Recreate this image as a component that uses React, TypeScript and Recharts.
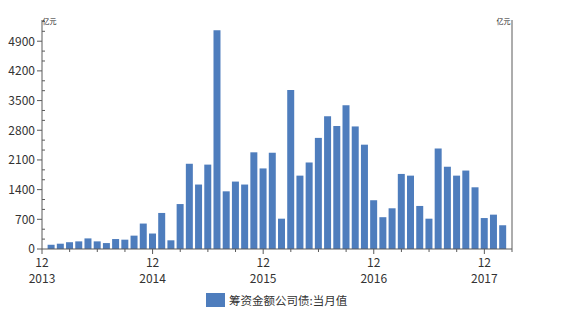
import React from 'react';
import { BarChart, Bar, XAxis, YAxis, CartesianGrid, Legend, Label } from 'recharts';

// monthly issuance, Jan 2014 .. Feb 2018
const MONTHS = [
  '2014-01', '2014-02', '2014-03', '2014-04', '2014-05', '2014-06', '2014-07', '2014-08', '2014-09', '2014-10', '2014-11', '2014-12',
  '2015-01', '2015-02', '2015-03', '2015-04', '2015-05', '2015-06', '2015-07', '2015-08', '2015-09', '2015-10', '2015-11', '2015-12',
  '2016-01', '2016-02', '2016-03', '2016-04', '2016-05', '2016-06', '2016-07', '2016-08', '2016-09', '2016-10', '2016-11', '2016-12',
  '2017-01', '2017-02', '2017-03', '2017-04', '2017-05', '2017-06', '2017-07', '2017-08', '2017-09', '2017-10', '2017-11', '2017-12',
  '2018-01', '2018-02',
];

const BOND_ISSUE = [
  100, 125, 160, 180, 250, 180, 140, 235, 220, 315, 600, 365,
  850, 205, 1060, 2010, 1520, 1990, 5160, 1360, 1590, 1520, 2280, 1900,
  2270, 715, 3750, 1730, 2040, 2620, 3130, 2900, 3390, 2890, 2460, 1150,
  750, 960, 1770, 1730, 1015, 715, 2370, 1940, 1730, 1850, 1455, 730,
  810, 560,
];

const YEAR_LABELS = ['2013', '2014', '2015', '2016', '2017'];
const MONTH_LABEL = '12';
const Y_MAJOR = [0, 700, 1400, 2100, 2800, 3500, 4200, 4900];
const Y_MAX = 5400;
const SERIES_NAME = '筹资金额公司债:当月值';
const UNIT = '亿元';

const BAR_COLOR = '#4e7dbd';
const AXIS_COLOR = '#5a5a5a';
const GRID_COLOR = '#e7ecf1';
const TEXT_COLOR = '#333';
const FONT = '"Noto Sans CJK SC", "Noto Sans", sans-serif';

// x position 0 = Dec 2013, bars sit at 1..50
const data = MONTHS.map((m, i) => ({ month: m, pos: i + 1, value: BOND_ISSUE[i] }));

const xTicks: number[] = [];
for (let p = 0; p <= MONTHS.length + 1; p += 3) xTicks.push(p);

const minorStep = 700 / 3;
const yTicks: number[] = [];
for (let i = 0; i * minorStep <= Y_MAX; i++) yTicks.push(i * minorStep);

const isMajor = (v: number) => Math.abs(v / 700 - Math.round(v / 700)) < 1e-6;

const XTick = (props: any) => {
  const { x, y, payload } = props;
  const v = payload.value;
  const major = v % 12 === 0;
  return (
    <g>
      <line x1={x} y1={y} x2={x} y2={y + (major ? 5 : 3)} stroke={AXIS_COLOR} />
      {major && (
        <text x={x} y={y} textAnchor="middle" fill={TEXT_COLOR} fontSize={12} fontFamily={FONT}>
          <tspan x={x} dy={18}>{MONTH_LABEL}</tspan>
          <tspan x={x} dy={16}>{YEAR_LABELS[v / 12]}</tspan>
        </text>
      )}
    </g>
  );
};

const makeYTick = (side: 'left' | 'right') => (props: any) => {
  const { x, y, payload } = props;
  const v = payload.value;
  const dir = side === 'left' ? -1 : 1;
  if (!isMajor(v)) {
    return <line x1={x} y1={y} x2={x - dir * 3} y2={y} stroke={AXIS_COLOR} />;
  }
  return (
    <g>
      <line x1={x} y1={y} x2={x + dir * 5} y2={y} stroke={AXIS_COLOR} />
      <text
        x={x + dir * 7}
        y={y}
        dy="0.36em"
        textAnchor={side === 'left' ? 'end' : 'start'}
        fill={TEXT_COLOR}
        fontSize={12}
        fontFamily={FONT}
      >
        {Math.round(v)}
      </text>
    </g>
  );
};

const unitLabel = (side: 'left' | 'right') => (p: any) => {
  const vb = p.viewBox;
  const x = side === 'left' ? vb.x + vb.width + 0.5 : vb.x - 1.5;
  return (
    <text x={x} y={vb.y + 3.5} textAnchor={side === 'left' ? 'start' : 'end'} fontSize={7} fill="#222" fontFamily={FONT}>
      {UNIT}
    </text>
  );
};

const renderLegend = (props: any) => {
  const items = props.payload || [];
  return (
    <div style={{ display: 'flex', alignItems: 'center', fontFamily: FONT }}>
      {items.map((it: any) => (
        <div key={it.value} style={{ display: 'flex', alignItems: 'center' }}>
          <span style={{ display: 'inline-block', width: 19, height: 14, background: it.color, marginRight: 4 }} />
          <span style={{ fontSize: 11.5, color: TEXT_COLOR }}>{it.value}</span>
        </div>
      ))}
    </div>
  );
};

export default function App() {
  return (
    <div style={{ position: 'absolute', left: 0, top: 0, background: '#fff' }}>
      <BarChart
        width={562}
        height={313}
        data={data}
        margin={{ top: 20, right: 8, bottom: 24, left: 8 }}
        style={{ fontFamily: FONT }}
      >
        <CartesianGrid vertical={false} horizontalValues={Y_MAJOR} stroke={GRID_COLOR} />
        <XAxis
          dataKey="pos"
          type="number"
          domain={[0, MONTHS.length + 1]}
          ticks={xTicks}
          interval={0}
          tickSize={0}
          tickMargin={0}
          height={40}
          axisLine={{ stroke: AXIS_COLOR }}
          tickLine={false}
          tick={<XTick />}
        />
        <YAxis
          yAxisId="left"
          domain={[0, Y_MAX]}
          ticks={yTicks}
          interval={0}
          width={34}
          tickSize={0}
          tickMargin={0}
          axisLine={{ stroke: AXIS_COLOR }}
          tickLine={false}
          tick={makeYTick('left')}
        >
          <Label content={unitLabel('left')} />
        </YAxis>
        <YAxis
          yAxisId="right"
          orientation="right"
          domain={[0, Y_MAX]}
          ticks={yTicks}
          interval={0}
          width={42}
          tickSize={0}
          tickMargin={0}
          axisLine={{ stroke: AXIS_COLOR }}
          tickLine={false}
          tick={makeYTick('right')}
        >
          <Label content={unitLabel('right')} />
        </YAxis>
        <Bar
          yAxisId="left"
          dataKey="value"
          name={SERIES_NAME}
          fill={BAR_COLOR}
          barSize={7}
          isAnimationActive={false}
        />
        <Legend
          layout="horizontal"
          verticalAlign="middle"
          align="center"
          wrapperStyle={{ left: 206, top: 292, width: 'auto', height: 'auto' }}
          content={renderLegend}
        />
      </BarChart>
    </div>
  );
}
